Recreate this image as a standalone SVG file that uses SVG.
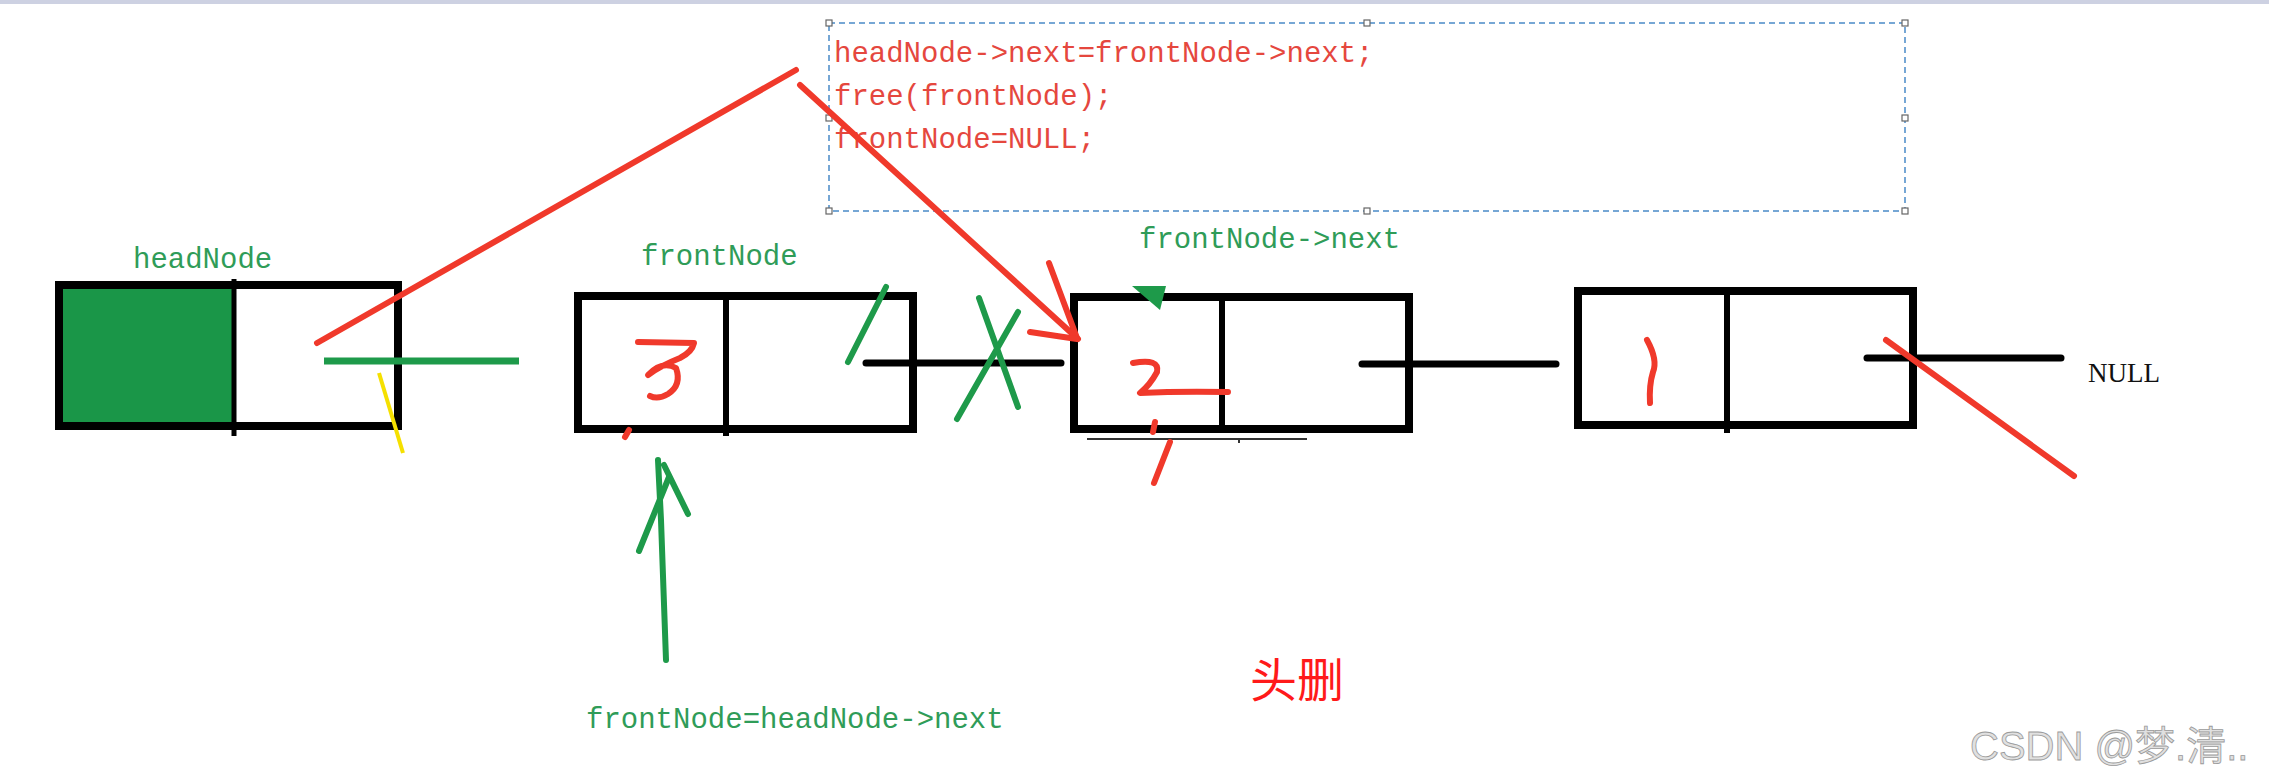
<svg xmlns="http://www.w3.org/2000/svg" width="2269" height="780" viewBox="0 0 2269 780">
<style>
.box{fill:none;stroke:#000;stroke-width:8}
.div{stroke:#000;stroke-width:6}
.blk{stroke:#000;stroke-width:7;stroke-linecap:round;fill:none}
.red{stroke:#f0392b;stroke-width:6;stroke-linecap:round;stroke-linejoin:round;fill:none}
.grn{stroke:#1e9a4a;stroke-width:6;stroke-linecap:round;stroke-linejoin:round;fill:none}
.mono{font-family:"Liberation Mono","DejaVu Sans Mono",monospace;font-size:29px}
.gl{fill:#2f9c58}
.code{fill:#e5473e}
.handle{fill:#fff;stroke:#666;stroke-width:1.2}
</style>
<rect x="0" y="0" width="2269" height="780" fill="#fff"/>
<rect x="0" y="0" width="2269" height="4" fill="#cdd1e2"/>

<g id="code-box">
<rect x="829" y="23" width="1076" height="188" fill="none" stroke="#4a8ac8" stroke-width="1.5" stroke-dasharray="6,4"/>
<rect class="handle" x="826" y="20" width="6" height="6"/>
<rect class="handle" x="1364" y="20" width="6" height="6"/>
<rect class="handle" x="1902" y="20" width="6" height="6"/>
<rect class="handle" x="826" y="115" width="6" height="6"/>
<rect class="handle" x="1902" y="115" width="6" height="6"/>
<rect class="handle" x="826" y="208" width="6" height="6"/>
<rect class="handle" x="1364" y="208" width="6" height="6"/>
<rect class="handle" x="1902" y="208" width="6" height="6"/>
<text class="mono code" x="834" y="62">headNode-&gt;next=frontNode-&gt;next;</text>
<text class="mono code" x="834" y="105">free(frontNode);</text>
<text class="mono code" x="834" y="148">frontNode=NULL;</text>
</g>

<g id="node-head">
<rect x="62" y="288" width="170" height="135" fill="#1a9648"/>
<rect class="box" x="59" y="285" width="339" height="141"/>
<line x1="234" y1="279" x2="234" y2="436" stroke="#000" stroke-width="5"/>
<text class="mono gl" x="133" y="268">headNode</text>
</g>

<g id="node-front">
<rect class="box" x="578" y="296" width="335" height="133"/>
<line class="div" x1="726" y1="292" x2="726" y2="436"/>
<text class="mono gl" x="641" y="265">frontNode</text>
<path class="red" d="M638,342 L694,343 Q692,352 680,358 Q660,366 648,375 Q662,360 676,368 Q682,385 668,394 Q658,400 650,396"/>
<line class="red" x1="629" y1="430" x2="625" y2="437" stroke-width="4"/>
</g>

<g id="node-2">
<rect class="box" x="1074" y="297" width="335" height="132"/>
<line class="div" x1="1222" y1="293" x2="1222" y2="433"/>
<line x1="1087" y1="439" x2="1307" y2="439" stroke="#333" stroke-width="2"/>
<line x1="1239" y1="439" x2="1239" y2="443" stroke="#333" stroke-width="2"/>
<text class="mono gl" x="1139" y="248">frontNode-&gt;next</text>
<path class="red" d="M1133,363 Q1160,358 1157,372 Q1150,385 1140,393 Q1180,391 1228,392"/>
<polygon points="1132,286 1166,286 1160,310" fill="#1e9a4a"/>
</g>

<g id="node-1">
<rect class="box" x="1578" y="291" width="335" height="134"/>
<line class="div" x1="1727" y1="287" x2="1727" y2="433"/>
<path class="red" d="M1647,340 Q1658,360 1653,372 Q1649,385 1650,403" stroke-width="4"/>
</g>

<g id="null-label">
<text x="2088" y="382" font-family="'Liberation Serif',serif" font-size="27" fill="#111">NULL</text>
</g>

<g id="connectors">
<line class="blk" x1="866" y1="363" x2="1061" y2="363"/>
<line class="blk" x1="1362" y1="364" x2="1556" y2="364"/>
<line class="blk" x1="1867" y1="358" x2="2061" y2="358"/>
<line x1="324" y1="361" x2="519" y2="361" stroke="#1e9a4a" stroke-width="7"/>
<line x1="379" y1="373" x2="403" y2="453" stroke="#f5e000" stroke-width="4"/>
<line class="red" x1="317" y1="343" x2="796" y2="70"/>
<line class="red" x1="800" y1="85" x2="1078" y2="339"/>
<line class="red" x1="1049" y1="263" x2="1077" y2="338"/>
<line class="red" x1="1030" y1="332" x2="1077" y2="339"/>
<line class="grn" x1="886" y1="287" x2="848" y2="362"/>
<line class="grn" x1="979" y1="298" x2="1018" y2="407"/>
<line class="grn" x1="1018" y1="312" x2="957" y2="419"/>
<path class="grn" d="M666,660 L661,520 L658,460"/>
<line class="grn" x1="639" y1="551" x2="669" y2="477"/>
<line class="grn" x1="688" y1="514" x2="664" y2="465"/>
<line class="red" x1="1155" y1="422" x2="1153" y2="432" stroke-width="5"/>
<line class="red" x1="1170" y1="442" x2="1154" y2="483" stroke-width="5"/>
<line class="red" x1="1886" y1="340" x2="2074" y2="476"/>
</g>

<g id="labels">
<text class="mono gl" x="586" y="728">frontNode=headNode-&gt;next</text>
<text x="1250" y="697" font-family="'Noto Sans CJK SC',sans-serif" font-size="47" fill="#ff1a1a">头删</text>
<text x="1970" y="760" font-family="'Liberation Sans','Noto Sans CJK SC',sans-serif" font-size="40" fill="#e0e0e0" stroke="#9a9a9a" stroke-width="0.8">CSDN @梦.清..</text>
</g>
</svg>
